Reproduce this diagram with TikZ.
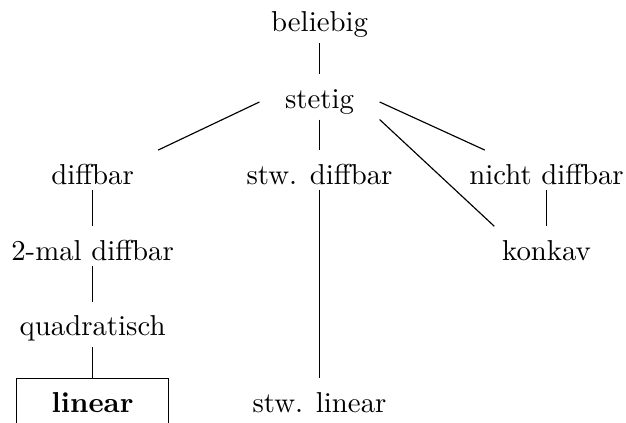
\documentclass[tikz,border=0pt]{standalone}
\usepackage{tikz}

\begin{document}
\begin{tikzpicture}[knoten/.style={anchor=base, text height=10pt, inner xsep=8.7pt, inner ysep=1.7pt}]
        %RAHMEN
        \useasboundingbox (0,0) rectangle (7.64,-5.16);
        %KNOTEN
        \node[knoten] (beliebig) at (3.90,-0.39) {beliebig};
        \node[knoten] (stetig) at (3.90,-1.32) {stetig};
        \node[knoten] (diffbar) at (1.13,-2.25) {diffbar};
        \node[knoten] (stwdiffbar) at (3.90,-2.25) {stw. diffbar};
        \node[knoten] (nichtdiffbar) at (6.67,-2.25) {nicht diffbar};
        \node[knoten] (zweimal) at (1.13,-3.18) {2-mal diffbar};
        \node[knoten] (konkav) at (6.67,-3.18) {konkav};
        \node[knoten] (quadratisch) at (1.13,-4.10) {quadratisch};
        \node[knoten, draw, minimum width=1.85cm, text depth=6pt] (linear) at (1.13,-5.03) {\textbf{linear}};
        \node[knoten] (stwlinear) at (3.90,-5.03) {stw. linear};
        %KANTEN
        \draw (beliebig) -- (stetig);
        \draw (stetig.185) -- (diffbar.17);
        \draw (stetig) -- (stwdiffbar);
        \draw (stetig.-5) -- (nichtdiffbar.162);
        \draw (stetig.south east) -- (konkav.159);
        \draw (diffbar) -- (zweimal);
        \draw (zweimal) -- (quadratisch);
        \draw (quadratisch) -- (linear);
        \draw (stwdiffbar) -- (stwlinear);
        \draw (nichtdiffbar) -- (konkav);
    \end{tikzpicture}
\end{document}
